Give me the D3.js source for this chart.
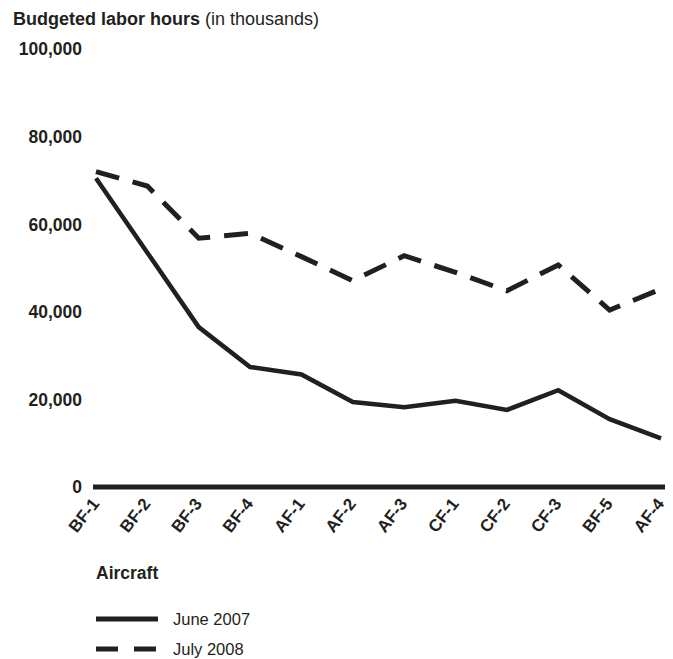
<!DOCTYPE html>
<html><head><meta charset="utf-8">
<script src="https://cdn.jsdelivr.net/npm/d3@7"></script>
<style>body{margin:0;background:#fff}svg{display:block}text{font-family:"Liberation Sans",Arial,sans-serif;fill:#231f20}</style>
</head><body><svg id="c" width="673" height="659"></svg>
<script>
const categories = ["BF-1","BF-2","BF-3","BF-4","AF-1","AF-2","AF-3","CF-1","CF-2","CF-3","BF-5","AF-4"];
const june2007 = [70500, 53500, 36500, 27400, 25700, 19400, 18200, 19700, 17600, 22100, 15500, 11100];
const july2008 = [72000, 68700, 56800, 57900, 52600, 47100, 52800, 49000, 44800, 50700, 40400, 45200];
const yTicks = [0, 20000, 40000, 60000, 80000, 100000];
const seriesNames = ["June 2007", "July 2008"];

const ink = "#231f20";
const svg = d3.select("#c");
const x = d3.scalePoint().domain(categories).range([96, 661]);
const y = d3.scaleLinear().domain([0, 100000]).range([487, 49]);

// title
const t = svg.append("text").attr("x", 13).attr("y", 25).style("font-size", "18px");
t.append("tspan").attr("font-weight", "bold").text("Budgeted labor hours");
t.append("tspan").text(" (in thousands)");

// y tick labels
svg.selectAll(".yt").data(yTicks).enter().append("text")
  .attr("x", 82).attr("y", d => y(d)).attr("dy", "0.36em")
  .attr("text-anchor", "end").attr("font-weight", "bold").style("font-size", "17.5px")
  .text(d => d3.format(",")(d));

// baseline axis
svg.append("line").attr("x1", 93).attr("x2", 665).attr("y1", y(0)).attr("y2", y(0))
  .attr("stroke", ink).attr("stroke-width", 5);

// x labels
svg.selectAll(".xt").data(categories).enter().append("text")
  .attr("transform", d => `translate(${x(d) + 4},${504}) rotate(-52)`)
  .attr("text-anchor", "end").attr("font-weight", "bold").style("font-size", "17px")
  .text(d => d);

svg.append("text").attr("x", 96).attr("y", 579).attr("font-weight", "bold").style("font-size", "17.5px").text("Aircraft");

const line = d3.line().x((d, i) => x(categories[i])).y(d => y(d));
svg.append("path").datum(june2007).attr("d", line).attr("fill", "none")
  .attr("stroke", ink).attr("stroke-width", 4.5).attr("stroke-linejoin", "miter");
svg.append("path").datum(july2008).attr("d", line).attr("fill", "none")
  .attr("stroke", ink).attr("stroke-width", 5).attr("stroke-dasharray", "24,14");

// legend
const leg = [{n: seriesNames[0], dash: null, y: 619}, {n: seriesNames[1], dash: "22,16", y: 649}];
leg.forEach(l => {
  svg.append("line").attr("x1", 96).attr("x2", 158).attr("y1", l.y).attr("y2", l.y)
    .attr("stroke", ink).attr("stroke-width", 5).attr("stroke-dasharray", l.dash);
  svg.append("text").attr("x", 173).attr("y", l.y).attr("dy", "0.36em").style("font-size", "16.5px").text(l.n);
});
</script></body></html>
